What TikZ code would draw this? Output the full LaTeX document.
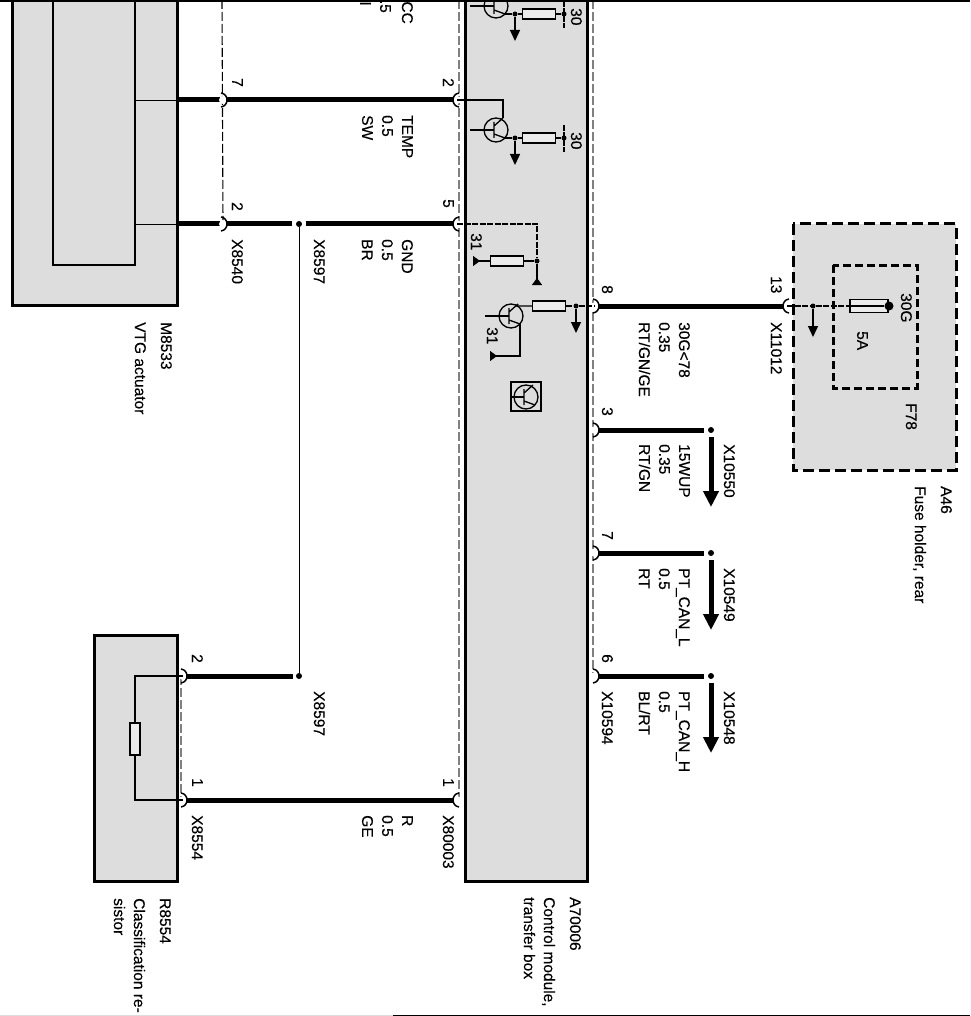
\documentclass[tikz,border=0pt]{standalone}
\usepackage{fontspec}
\setmainfont{Liberation Sans}[FakeBold=0.25]
\usepackage{xcolor}
\usetikzlibrary{arrows.meta}
\definecolor{boxgray}{HTML}{DDDDDD}
\definecolor{dashgray}{HTML}{808080}
\tikzset{
   box/.style={draw=black, fill=boxgray, line width=3pt},
   inbox/.style={draw=black, line width=1.2pt},
   thickw/.style={line width=5pt},
   thinw/.style={line width=1.1pt},
   dashw/.style={line width=1.3pt, dash pattern=on 6pt off 1.5pt},
   sepline/.style={line width=1.1pt, dash pattern=on 9pt off 3pt},
   graysep/.style={dashgray, line width=1.6pt, dash pattern=on 9pt off 3pt},
   bigarrow/.style={line width=5pt, -{Triangle[length=16pt,width=15pt]}},
   smallarrow/.style={line width=1.3pt, -{Triangle[length=11pt,width=10pt]}},
   gnd/.style={line width=1.2pt, -{Triangle[reversed,length=7pt,width=10pt]}},
   junc/.style={circle, fill=black, inner sep=0pt, minimum size=6pt},
   res/.style={draw=black, fill=boxgray!60!white, line width=1.3pt, inner sep=0pt, minimum width=33pt, minimum height=10pt},
   lbl/.style={rotate=-90, anchor=north west, inner sep=0pt, align=left, font=\fontsize{15.5}{20}\selectfont},
   endlbl/.style={lbl, anchor=north east},
   pin/.pic={
      \fill[white] (0,0) circle (4);
      \draw[line width=1.5pt] (-2,-7) .. controls (6,-6) and (6,6) .. (-2,7);
   },
   tran/.pic={
      \draw[line width=1.3pt] (0,0) circle (12);
      \draw[line width=1.3pt] (-2,-8) -- (-2,8) (-2,-4) -- (7,-12) (-2,4) -- (9,8);
      \coordinate (-b) at (-2,0);
      \coordinate (-c) at (7,-12);
      \coordinate (-e) at (9,8);
   },
}
\begin{document}
\begin{tikzpicture}[x=1pt, y=-1pt]
   \useasboundingbox (0,0) rectangle (970,1016);
   \draw[box] (12,-10) rectangle (177,305);
   \draw[inbox] (53,-10) rectangle (135,265);
   \draw[box] (94,635) rectangle (177,881);
   \draw[box] (465,-10) rectangle (587,881);
   \draw[box, dash pattern=on 11pt off 5pt] (793,224) rectangle (956,470);
   \draw[line width=3pt, dash pattern=on 8pt off 4pt] (833,265) rectangle (917,388);

   \coordinate (m7) at (135,100);
   \coordinate (m2) at (135,224);
   \coordinate (p7) at (223,100);
   \coordinate (p2) at (223,224);
   \coordinate (a2) at (457,100);
   \coordinate (a5) at (457,224);
   \coordinate (a1) at (457,800);
   \coordinate (r2) at (183,676);
   \coordinate (r1) at (183,800);
   \coordinate (a8) at (595,306);
   \coordinate (a3) at (595,430);
   \coordinate (a7) at (595,553);
   \coordinate (a6) at (595,676);
   \coordinate (f13) at (787,306);
   \node[junc] (s1) at (299,224) {};
   \node[junc] (s2) at (299,676) {};
   \node[junc] (c3) at (711,430) {};
   \node[junc] (c7) at (711,553) {};
   \node[junc] (c6) at (711,676) {};
   \coordinate (e3) at (711,507);
   \coordinate (e7) at (711,630);
   \coordinate (e6) at (711,753);

   \draw[graysep] (459,0) -- (459,800);
   \draw[graysep] (593,0) -- (593,676);
   \draw[graysep] (181,676) -- (181,800);
   \draw[sepline] (222,0) -- (p2);

   \draw[thickw] (177,100) -- (a2);
   \draw[thickw] (177,224) -- ([xshift=-4pt]s1.west);
   \draw[thickw] ([xshift=4pt]s1.east) -- (a5);
   \draw[thickw] (r2) -- ([xshift=-3pt]s2.west);
   \draw[thickw] (r1) -- (a1);
   \draw[thickw] (a8) -- (f13);
   \foreach \n in {3,7,6} {
      \draw[thickw] (a\n) -- ([xshift=-4pt]c\n.west);
      \draw[bigarrow] ([yshift=-4pt]c\n.south) -- (e\n);
   }
   \draw[line width=1pt] (s1) -- (s2);

   \foreach \q in {p7,p2,r2,r1,a8,a3,a7,a6} {
      \pic at (\q) {pin};
   }
   \foreach \q in {a2,a5,a1,f13} {
      \pic[rotate=180] at (\q) {pin};
   }

   \draw[line width=0.7pt] (m7) -- (177,100);
   \draw[line width=0.7pt] (m2) -- (177,224);
   \node[res, minimum width=10pt, minimum height=32pt] (r0) at (135,739) {};
   \draw[thinw] (r2) -| (r0);
   \draw[thinw] (r1) -| (r0);

   \foreach \n/\cy in {u/6,t/130} {
      \pic (q\n) at (496,\cy) {tran};
      \draw[thinw] (q\n-b) -- ++(-24,0);
      \node[junc, minimum size=5pt] (j\n) at (515,\cy+8) {};
      \node[res] (h\n) at (539,\cy+8) {};
      \node[junc, minimum size=5pt] (d\n) at (564,\cy+8) {};
      \draw[thinw] (q\n-e) -- (j\n) -- (h\n) -- (d\n);
      \draw[dashw] (d\n) ++(0,-13) -- ++(0,27);
      \draw[smallarrow] (j\n) -- ++(0,27);
      \node[lbl] (v\n) at (582,\cy+2) {30};
   }
   \draw[thinw] (a2) -| (qt-c);

   \node[junc, minimum size=5pt] (g1) at (537,261) {};
   \node[res] (g2) at (507,261) {};
   \coordinate (g3) at (473,261);
   \coordinate (g4) at (537,285);
   \draw[dashw] (a5) -| (g1);
   \draw[gnd] (g1) -- (g4);
   \draw[thinw] (g1) -- (g2);
   \draw[gnd] (g2) -- (g3);
   \node[lbl] (n31a) at (482,233) {31};

   \pic (q4) at (511,316) {tran};
   \node[res] (h4) at (549,306) {};
   \node[junc, minimum size=5pt] (j4) at (576,306) {};
   \coordinate (g5) at (490,356);
   \draw[thinw] (q4-b) -- ++(-24,0);
   \draw[thinw] (q4-c) -- (517,306) -- (h4);
   \draw[dashw] (h4) -- (j4) -- (a8);
   \draw[smallarrow] (j4) -- ++(0,27);
   \draw[gnd] (q4-e) |- (g5);
   \node[lbl] (n31b) at (498,327) {31};

   \draw[line width=1.3pt, fill=boxgray] (511,382) rectangle (541,411);
   \pic (q5) at (526,397) {tran};
   \draw[thinw] (q5-b) -- ++(-14,0);

   \node[junc, minimum size=5pt] (j5) at (813,306) {};
   \node[res, minimum width=38pt, minimum height=13pt] (fuse) at (869,306) {};
   \node[junc, minimum size=9pt] (t5) at (889,306) {};
   \draw[dashw] (f13) -- (j5) -- (fuse.west);
   \draw[thinw] (fuse.west) -- (t5);
   \draw[smallarrow] (j5) -- ++(0,31);

   \node[lbl] (n1) at (243,78) {7};
   \node[lbl] (n2) at (243,202) {2};
   \node[lbl] (n3) at (454,78) {2};
   \node[lbl] (n4) at (454,199) {5};
   \node[lbl] (n5) at (203,654) {2};
   \node[lbl] (n6) at (203,778) {1};
   \node[lbl] (n7) at (454,778) {1};
   \node[lbl] (n8) at (613,285) {8};
   \node[lbl] (n9) at (613,407) {3};
   \node[lbl] (n10) at (613,531) {7};
   \node[lbl] (n11) at (613,654) {6};
   \node[lbl] (n12) at (782,276) {13};

   \node[lbl] (x1) at (243,239) {X8540};
   \node[lbl] (x2) at (325,239) {X8597};
   \node[lbl] (x3) at (325,691) {X8597};
   \node[lbl] (x4) at (203,815) {X8554};
   \node[lbl] (x5) at (454,815) {X80003};
   \node[lbl] (x6) at (613,691) {X10594};
   \node[lbl] (x7) at (735,444) {X10550};
   \node[lbl] (x8) at (735,568) {X10549};
   \node[lbl] (x9) at (735,691) {X10548};
   \node[lbl] (x10) at (782,322) {X11012};

   \node[endlbl] (w0a) at (413,24) {CC};
   \node[endlbl] (w0b) at (391,13) {.5};
   \node[endlbl] (w0c) at (371,6) {I};
   \node[lbl] (w1) at (413,115) {TEMP\\0.5\\SW};
   \node[lbl] (w2) at (413,239) {GND\\0.5\\BR};
   \node[lbl] (w3) at (413,815) {R\\0.5\\GE};
   \node[lbl] (w4) at (690,322) {30G<78\\0.35\\RT/GN/GE};
   \node[lbl] (w5) at (690,444) {15WUP\\0.35\\RT/GN};
   \node[lbl] (w6) at (690,568) {PT\_CAN\_L\\0.5\\RT};
   \node[lbl] (w7) at (690,691) {PT\_CAN\_H\\0.5\\BL/RT};

   \node[lbl] (c1) at (172,322) {M8533\\[6pt]VTG actuator};
   \node[lbl] (c2) at (171,898) {R8554\\[6pt]Classification re-\\sistor};
   \node[lbl] (c3t) at (581,897) {A70006\\[6pt]Control module,\\transfer box};
   \node[lbl] (c4) at (952,486) {A46\\[6pt]Fuse holder, rear};
   \node[lbl] (f1) at (912,293) {30G};
   \node[lbl] (f2) at (868,331) {5A};
   \node[lbl] (f3) at (917,403) {F78};

   \draw[line width=1.5pt] (0,1) -- (970,1);
   \draw[boxgray, line width=0.8pt] (0,1015) -- (393,1015);
   \draw[line width=0.8pt] (393,1015) -- (970,1015);
\end{tikzpicture}
\end{document}
